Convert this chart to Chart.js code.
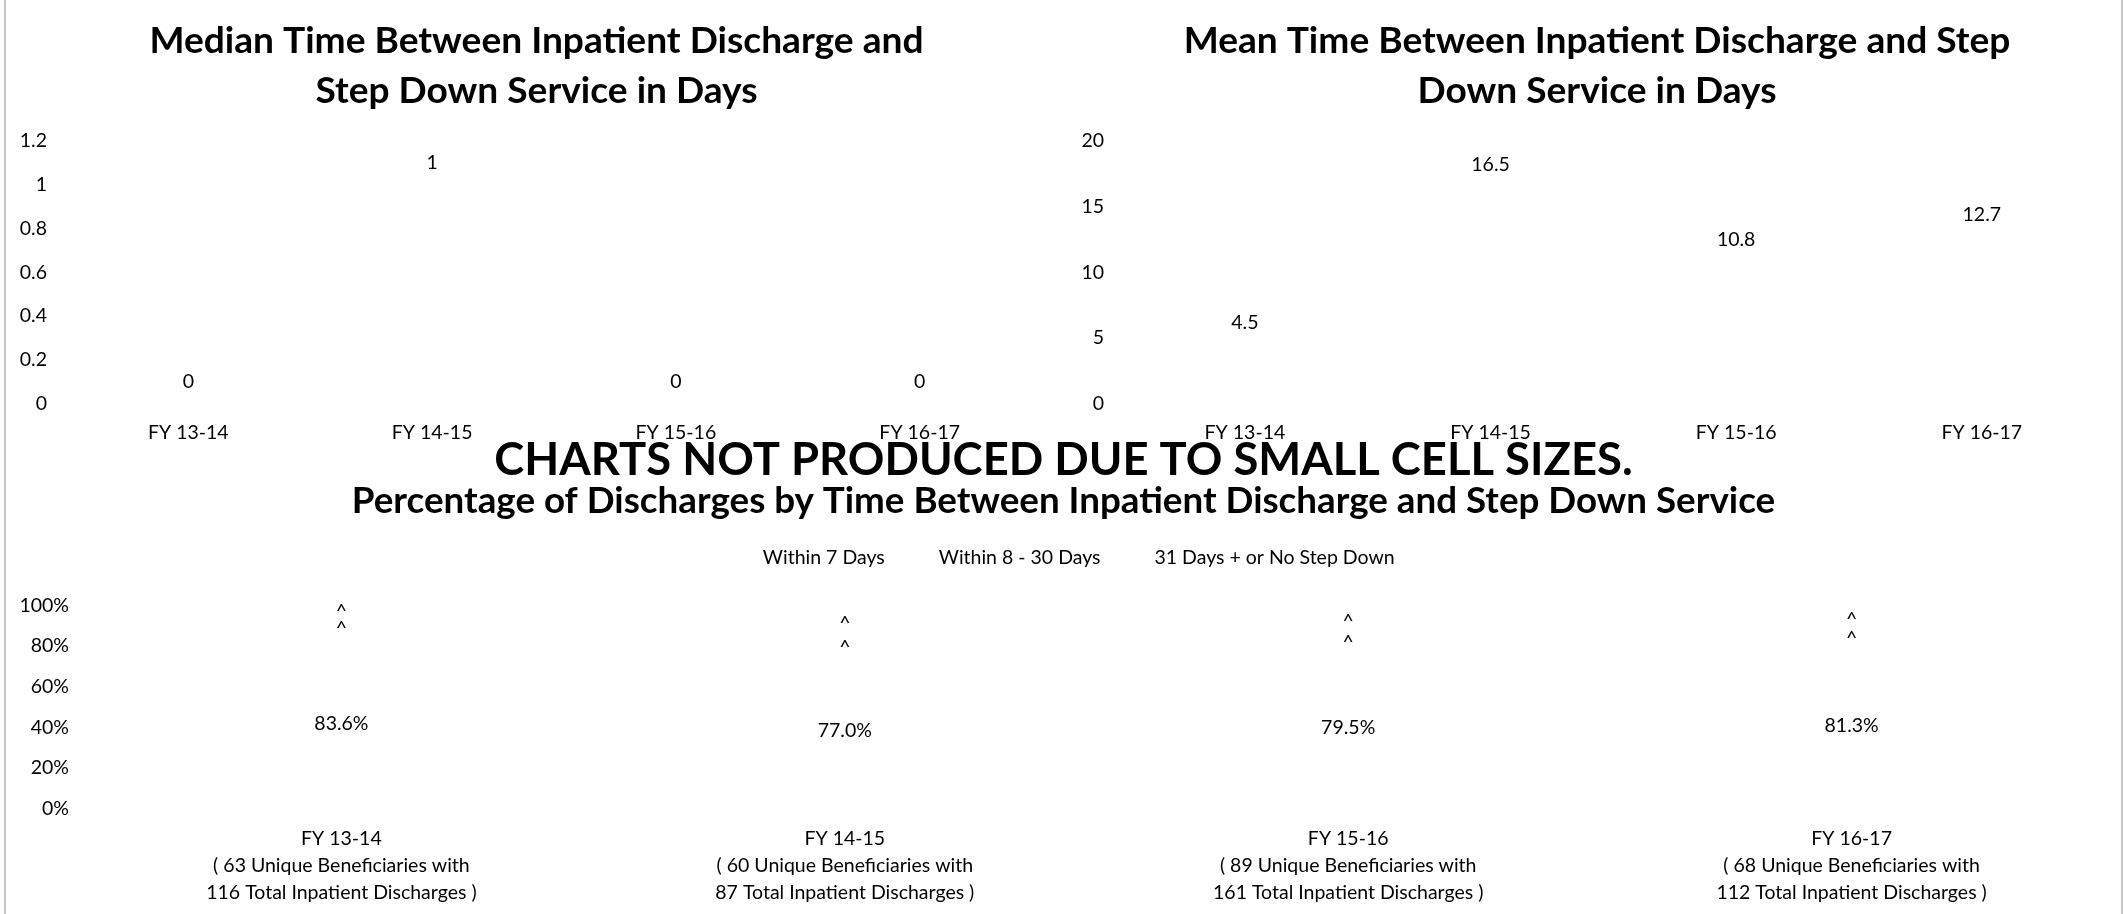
<!DOCTYPE html>
<html>
<head>
<meta charset="utf-8">
<script src="https://cdn.jsdelivr.net/npm/chart.js@4.4.1/dist/chart.umd.min.js"></script>
<style>
html, body { margin: 0; padding: 0; background: #fff; }
body { width: 2124px; height: 914px; position: relative; overflow: hidden; }
canvas { position: absolute; }
.edge { position: absolute; top: 0; width: 2px; height: 914px; background: #c8c8c8; }
</style>
</head>
<body>
<div class="edge" style="left:4px"></div>
<div class="edge" style="left:2121px"></div>
<canvas id="medianChart" width="1073" height="444" style="left:0;top:0"></canvas>
<canvas id="meanChart" width="1048" height="444" style="left:1073px;top:0"></canvas>
<canvas id="pctChart" width="2124" height="494" style="left:0;top:420px"></canvas>
<script>
// ---------------- data ----------------
const fiscalYears = ['FY 13-14', 'FY 14-15', 'FY 15-16', 'FY 16-17'];
const medianDays = [0, 1, 0, 0];
const meanDays = [4.5, 16.5, 10.8, 12.7];
const uniqueBeneficiaries = [63, 60, 89, 68];
const totalDischarges = [116, 87, 161, 112];
const seriesNames = ['Within 7 Days', 'Within 8 - 30 Days', '31 Days + or No Step Down'];
const pctWithin7Days = [83.6, 77.0, 79.5, 81.3];
const pctWithin8to30Days = [10.3, 4.6, 4.3, 4.5];   // suppressed in source (shown as ^), estimated
const pct31PlusOrNone = [6.0, 18.4, 16.1, 14.3];    // suppressed in source (shown as ^), estimated
const suppressedMark = '^';
const medianAxis = { min: 0, max: 1.2, step: 0.2 };
const meanAxis = { min: 0, max: 20, step: 5 };
const pctAxis = { min: 0, max: 100, step: 20 };
const medianTitle = ['Median Time Between Inpatient Discharge and', 'Step Down Service in Days'];
const meanTitle = ['Mean Time Between Inpatient Discharge and Step', 'Down Service in Days'];
const pctTitle = 'Percentage of Discharges by Time Between Inpatient Discharge and Step Down Service';
const suppressionNotice = 'CHARTS NOT PRODUCED DUE TO SMALL CELL SIZES.';

// ---------------- fonts ----------------
const FAMILY = 'Lato, "Open Sans", sans-serif';
const mctx = document.createElement('canvas').getContext('2d');
function fitSize(samples, weight) {
  mctx.font = weight + ' 100px ' + FAMILY;
  const r = samples.map(([t, w]) => 100 * w / mctx.measureText(t).width);
  return r.reduce((a, b) => a + b, 0) / r.length;
}
const bodySize = fitSize([['FY 13-14', 75], ['Within 7 Days', 125], ['31 Days + or No Step Down', 244],
  ['116 Total Inpatient Discharges )', 283], ['( 63 Unique Beneficiaries with', 253]], 'normal');
const topTitleSize = fitSize([[medianTitle[0], 775], [meanTitle[0], 826]], 'bold');
const noticeSize = fitSize([[suppressionNotice, 1139]], 'bold');
const pctTitleSize = fitSize([[pctTitle, 1424]], 'bold');

Chart.defaults.font.family = FAMILY;
Chart.defaults.font.size = bodySize;
Chart.defaults.color = '#000';
Chart.defaults.animation = false;

// ---------------- value label plugin ----------------
const barValueLabels = {
  id: 'barValueLabels',
  afterDatasetsDraw(chart, args, opts) {
    const ctx = chart.ctx;
    ctx.save();
    ctx.font = bodySize + 'px ' + FAMILY;
    ctx.fillStyle = '#000';
    ctx.textAlign = 'center';
    ctx.textBaseline = 'middle';
    chart.data.datasets.forEach((ds, di) => {
      const meta = chart.getDatasetMeta(di);
      if (meta.hidden) return;
      meta.data.forEach((bar, i) => {
        const text = ds.valueTexts[i];
        const y = opts.mode === 'center' ? (bar.y + bar.base) / 2 : bar.y - opts.offset;
        ctx.fillText(text, bar.x, y);
      });
    });
    ctx.restore();
  }
};

const CLEAR = 'rgba(0,0,0,0)';
const noGrid = { display: false, drawTicks: false };
const noBorder = { display: false };
const cleanNum = v => String(Math.round(v * 100) / 100);
// empty right-hand axis that only reserves the right margin of the plot area
const rightGap = w => ({ type: 'linear', position: 'right', display: true, grid: noGrid, border: noBorder,
  ticks: { display: false }, afterFit: s => { s.width = w; } });

function topChart(id, values, axis, title, g) {
  return new Chart(document.getElementById(id), {
    type: 'bar',
    data: {
      labels: fiscalYears,
      datasets: [{ data: values, backgroundColor: CLEAR, borderColor: CLEAR, borderWidth: 0,
        valueTexts: values.map(v => String(v)) }]
    },
    plugins: [barValueLabels],
    options: {
      responsive: false,
      animation: false,
      layout: { padding: 0 },
      plugins: {
        legend: { display: false },
        tooltip: { enabled: false },
        title: { display: true, text: title, color: '#000',
          font: { weight: 'bold', size: topTitleSize, lineHeight: '50px' },
          padding: { top: 15.6, bottom: 24.9 } },
        barValueLabels: { mode: 'end', offset: 22 }
      },
      scales: {
        x: { grid: noGrid, border: noBorder,
          ticks: { padding: 16.8, maxRotation: 0, autoSkip: false, font: { lineHeight: '24px' } },
          afterFit: s => { s.height = 40; } },
        y: { min: axis.min, max: axis.max, grid: noGrid, border: noBorder,
          ticks: { stepSize: axis.step, padding: g.yPad, font: { lineHeight: '24px' }, callback: cleanNum },
          afterFit: s => { s.width = g.yWidth; } },
        gap: rightGap(g.rightWidth)
      }
    }
  });
}

topChart('medianChart', medianDays, medianAxis, medianTitle,
  { yWidth: 66.4, yPad: 19.4, rightWidth: 31.4 });
topChart('meanChart', meanDays, meanAxis, meanTitle,
  { yWidth: 49.1, yPad: 18.1, rightWidth: 16.4 });

const pctSeries = [pctWithin7Days, pctWithin8to30Days, pct31PlusOrNone];
new Chart(document.getElementById('pctChart'), {
  type: 'bar',
  data: {
    labels: fiscalYears.map((fy, i) => [fy,
      '( ' + uniqueBeneficiaries[i] + ' Unique Beneficiaries with',
      totalDischarges[i] + ' Total Inpatient Discharges )']),
    datasets: pctSeries.map((vals, si) => ({
      label: seriesNames[si],
      data: vals,
      backgroundColor: CLEAR, borderColor: CLEAR, borderWidth: 0,
      valueTexts: vals.map(v => si === 0 ? v.toFixed(1) + '%' : suppressedMark)
    }))
  },
  plugins: [barValueLabels],
  options: {
    responsive: false,
    animation: false,
    layout: { padding: { left: 3, right: 0, top: 0, bottom: 0 } },
    plugins: {
      tooltip: { enabled: false },
      title: { display: true, text: suppressionNotice, color: '#000',
        font: { weight: 'bold', size: noticeSize, lineHeight: '50px' },
        padding: { top: 15.6, bottom: 0 } },
      subtitle: { display: true, text: pctTitle, color: '#000',
        font: { weight: 'bold', size: pctTitleSize, lineHeight: '30px' },
        padding: { top: 0.6, bottom: -19.2 } },
      legend: { display: true, position: 'top', align: 'center',
        labels: { color: '#000', boxWidth: 30.5 - bodySize / 2, boxHeight: 75, padding: 23.5,
          font: { size: bodySize } } },
      barValueLabels: { mode: 'center' }
    },
    scales: {
      x: { stacked: true, grid: noGrid, border: noBorder,
        ticks: { padding: 16.25, maxRotation: 0, autoSkip: false, font: { lineHeight: '27.1px' } },
        afterFit: s => { s.height = 105.3; } },
      y: { stacked: true, min: pctAxis.min, max: pctAxis.max, grid: noGrid, border: noBorder,
        ticks: { stepSize: pctAxis.step, padding: 20.7, callback: v => v + '%' },
        afterFit: s => { s.width = 86.7; } },
      gap: rightGap(20.7)
    }
  }
});
</script>
</body>
</html>
